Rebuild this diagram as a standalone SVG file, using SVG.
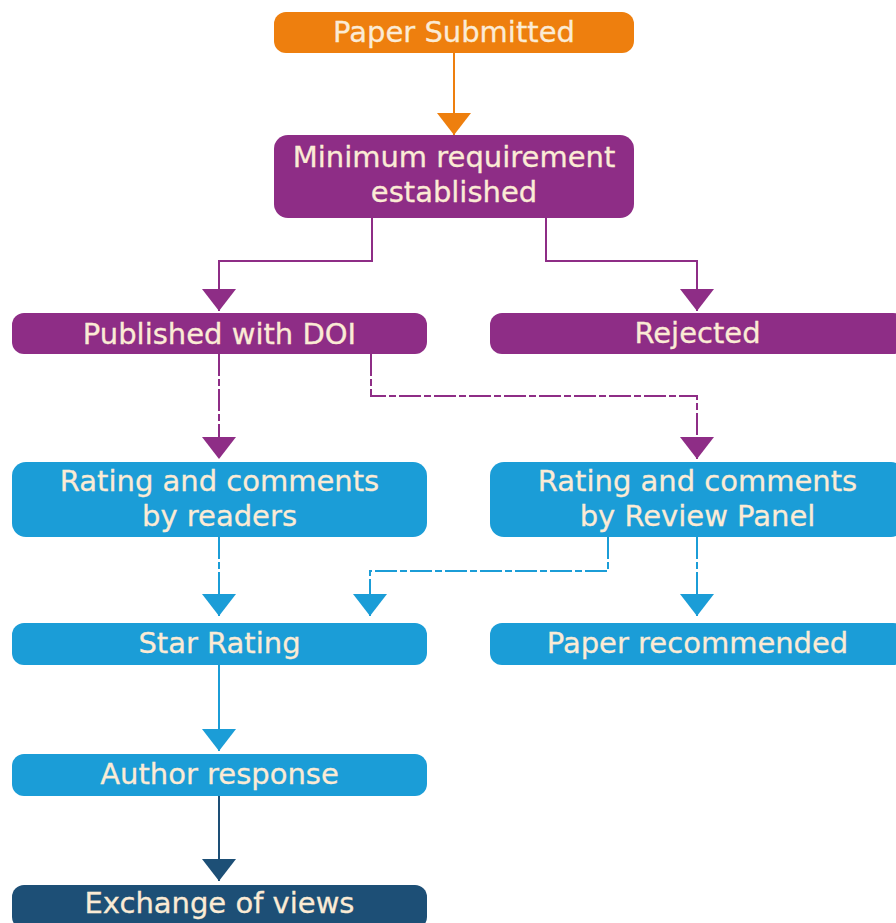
<svg xmlns="http://www.w3.org/2000/svg" width="896" height="923" viewBox="0 0 896 923">
<style>
.lbl{font-family:"DejaVu Sans","Liberation Sans",sans-serif;font-size:29px;fill:#FBEBD5;text-anchor:middle;stroke:#FBEBD5;stroke-width:0.3}
.orange{fill:#EE7F0E}.purple{fill:#8E2D86}.blue{fill:#1B9DD7}.navy{fill:#1D4F76}
.c{fill:none;stroke-width:2}
.co{stroke:#EE7F0E}.cp{stroke:#8E2D86}.cb{stroke:#1B9DD7}.cn{stroke:#1D4F76}
.dash{stroke-dasharray:22 3 7 3}
</style>
<defs>
<marker id="aO" markerUnits="userSpaceOnUse" orient="auto" refX="0" refY="0" markerWidth="24" markerHeight="36" overflow="visible"><path d="M-22,-17 L0,0 L-22,17 Z" fill="#EE7F0E"/></marker>
<marker id="aP" markerUnits="userSpaceOnUse" orient="auto" refX="0" refY="0" markerWidth="24" markerHeight="36" overflow="visible"><path d="M-22,-17 L0,0 L-22,17 Z" fill="#8E2D86"/></marker>
<marker id="aB" markerUnits="userSpaceOnUse" orient="auto" refX="0" refY="0" markerWidth="24" markerHeight="36" overflow="visible"><path d="M-22,-17 L0,0 L-22,17 Z" fill="#1B9DD7"/></marker>
<marker id="aN" markerUnits="userSpaceOnUse" orient="auto" refX="0" refY="0" markerWidth="24" markerHeight="36" overflow="visible"><path d="M-22,-17 L0,0 L-22,17 Z" fill="#1D4F76"/></marker>
</defs>
<rect width="896" height="923" fill="#FFFFFF"/>
<g id="connectors">
<path class="c co" d="M454,53 V135" marker-end="url(#aO)"/>
<path class="c cp" d="M372,218 V261 H219 V311" marker-end="url(#aP)"/>
<path class="c cp" d="M546,218 V261 H697 V311" marker-end="url(#aP)"/>
<path class="c cp dash" d="M219,354 V459" marker-end="url(#aP)"/>
<path class="c cp dash" d="M371,354 V396 H697 V459" marker-end="url(#aP)"/>
<path class="c cb dash" d="M219,537 V616" marker-end="url(#aB)"/>
<path class="c cb dash" d="M608,537 V571 H370 V616" marker-end="url(#aB)"/>
<path class="c cb dash" d="M697,537 V616" marker-end="url(#aB)"/>
<path class="c cb" d="M219,665 V751" marker-end="url(#aB)"/>
<path class="c cn" d="M219,796 V881" marker-end="url(#aN)"/>
</g>
<g id="paper-submitted"><rect class="orange" x="274" y="12" width="360" height="41" rx="12"/><text class="lbl" x="454" y="42">Paper Submitted</text></g>
<g id="minimum-requirement"><rect class="purple" x="274" y="135" width="360" height="83" rx="14"/><text class="lbl" x="454" y="167">Minimum requirement</text><text class="lbl" x="454" y="202">established</text></g>
<g id="published-doi"><rect class="purple" x="12" y="313" width="415" height="41" rx="12"/><text class="lbl" x="219.5" y="344">Published with DOI</text></g>
<g id="rejected"><rect class="purple" x="490" y="313" width="415" height="41" rx="12"/><text class="lbl" x="697.5" y="343">Rejected</text></g>
<g id="rating-readers"><rect class="blue" x="12" y="462" width="415" height="75" rx="14"/><text class="lbl" x="219.5" y="491">Rating and comments</text><text class="lbl" x="219.5" y="526">by readers</text></g>
<g id="rating-panel"><rect class="blue" x="490" y="462" width="415" height="75" rx="14"/><text class="lbl" x="697.5" y="491">Rating and comments</text><text class="lbl" x="697.5" y="526">by Review Panel</text></g>
<g id="star-rating"><rect class="blue" x="12" y="623" width="415" height="42" rx="12"/><text class="lbl" x="219.5" y="653">Star Rating</text></g>
<g id="paper-recommended"><rect class="blue" x="490" y="623" width="415" height="42" rx="12"/><text class="lbl" x="697.5" y="653">Paper recommended</text></g>
<g id="author-response"><rect class="blue" x="12" y="754" width="415" height="42" rx="12"/><text class="lbl" x="219.5" y="784">Author response</text></g>
<g id="exchange-views"><rect class="navy" x="12" y="885" width="415" height="44" rx="12"/><text class="lbl" x="219.5" y="913">Exchange of views</text></g>
</svg>
